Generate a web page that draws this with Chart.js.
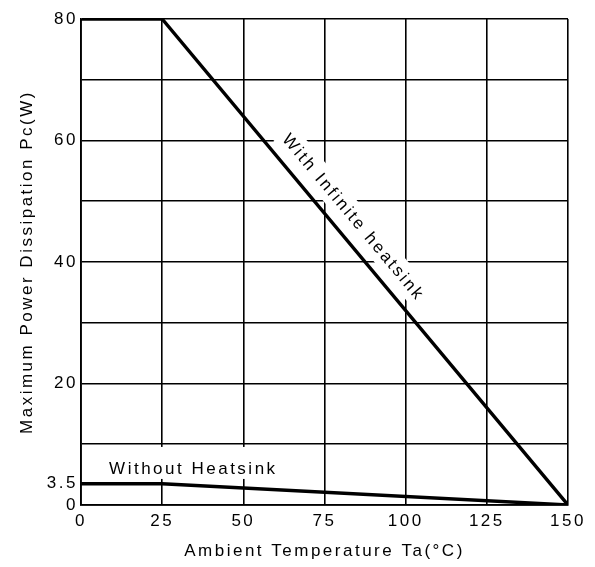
<!DOCTYPE html>
<html>
<head>
<meta charset="utf-8">
<script src="https://cdn.jsdelivr.net/npm/chart.js@4.4.0/dist/chart.umd.min.js"></script>
<style>
  html, body { margin: 0; padding: 0; background: #fff; }
  #wrap { width: 595px; height: 567px; }
</style>
</head>
<body>
<div id="wrap"><canvas id="derating"></canvas></div>
<script>
// ambient temperature (°C) and max dissipation (W)
var tempPoints = [0, 25, 150];
var withHeatsink = [80, 80, 0];
var withoutHeatsink = [3.5, 3.5, 0];

var xTicks = [0, 25, 50, 75, 100, 125, 150];
var yGridValues = [0, 10, 20, 30, 40, 50, 60, 70, 80];
var yTickLabels = [0, 3.5, 20, 40, 60, 80];

var labelFont = '17px "Liberation Sans", Arial, sans-serif';

function toPoints(ys) {
  return tempPoints.map(function (t, i) { return { x: t, y: ys[i] }; });
}

// text labels sitting on the plot, with a white box behind them
var notes = [
  { text: 'With Infinite heatsink', x: 84, y: 47.4, follow: true, boxTop: -13, boxBottom: 13 },
  { text: 'Without Heatsink', x: 34.6, y: 6.1, follow: false, boxTop: -21, boxBottom: 11 }
];

var spacing = {
  id: 'spacing',
  beforeDraw: function (chart) {
    chart.ctx.letterSpacing = '2.5px';
  }
};

var noteLabels = {
  id: 'noteLabels',
  beforeDatasetsDraw: function (chart) {
    var c = chart.ctx;
    var xs = chart.scales.x, ys = chart.scales.y;
    c.save();
    c.font = labelFont;
    c.letterSpacing = '2.5px';
    c.textAlign = 'center';
    c.textBaseline = 'middle';
    notes.forEach(function (n) {
      var px = xs.getPixelForValue(n.x);
      var py = ys.getPixelForValue(n.y);
      var angle = 0;
      if (n.follow) {
        angle = Math.atan2(
          ys.getPixelForValue(withHeatsink[2]) - ys.getPixelForValue(withHeatsink[1]),
          xs.getPixelForValue(tempPoints[2]) - xs.getPixelForValue(tempPoints[1]));
      }
      c.save();
      c.translate(px, py);
      c.rotate(angle);
      var w = c.measureText(n.text).width + 8;
      c.fillStyle = '#fff';
      c.fillRect(-w / 2, n.boxTop, w, n.boxBottom - n.boxTop);
      c.fillStyle = '#000';
      c.fillText(n.text, 0, 1);
      c.restore();
    });
    c.restore();
  }
};

Chart.defaults.font.family = '"Liberation Sans", Arial, sans-serif';
Chart.defaults.font.size = 17;
Chart.defaults.color = '#000';

new Chart(document.getElementById('derating'), {
  type: 'line',
  data: {
    datasets: [{
      label: 'With Infinite heatsink',
      data: toPoints(withHeatsink),
      borderColor: '#000',
      borderWidth: 3.4,
      pointRadius: 0,
      fill: false
    }, {
      label: 'Without Heatsink',
      data: toPoints(withoutHeatsink),
      borderColor: '#000',
      borderWidth: 3.4,
      pointRadius: 0,
      fill: false
    }]
  },
  options: {
    animation: false,
    responsive: true,
    maintainAspectRatio: false,
    layout: { padding: { left: 17, top: 19, right: 27, bottom: 5 } },
    plugins: {
      legend: { display: false },
      tooltip: { enabled: false }
    },
    scales: {
      x: {
        type: 'linear',
        min: 0,
        max: 150,
        afterBuildTicks: function (scale) {
          scale.ticks = xTicks.map(function (v) { return { value: v }; });
        },
        afterFit: function (scale) { scale.height = 57; },
        ticks: { autoSkip: false, maxRotation: 0, padding: 6 },
        grid: { color: '#000', lineWidth: 1.6, drawTicks: false },
        border: { color: '#000', width: 1.8 },
        title: {
          display: true,
          text: 'Ambient Temperature Ta(°C)',
          padding: 0,
          font: { size: 17 }
        }
      },
      y: {
        min: 0,
        max: 80,
        afterBuildTicks: function (scale) {
          var vals = yGridValues.concat([3.5]).sort(function (a, b) { return a - b; });
          scale.ticks = vals.map(function (v) { return { value: v }; });
        },
        afterFit: function (scale) { scale.width = 64; },
        ticks: {
          autoSkip: false,
          padding: 3,
          callback: function (value) {
            return yTickLabels.indexOf(value) >= 0 ? String(value) : '';
          }
        },
        grid: {
          lineWidth: 1.6,
          drawTicks: false,
          color: function (ctx) {
            return yTickLabels.indexOf(ctx.tick.value) >= 0 && yGridValues.indexOf(ctx.tick.value) < 0 ? 'rgba(0,0,0,0)' : '#000';
          }
        },
        border: { color: '#000', width: 1.8 },
        title: {
          display: true,
          text: 'Maximum Power Dissipation Pc(W)',
          padding: 0,
          font: { size: 17 }
        }
      }
    }
  },
  plugins: [spacing, noteLabels]
});
</script>
</body>
</html>
